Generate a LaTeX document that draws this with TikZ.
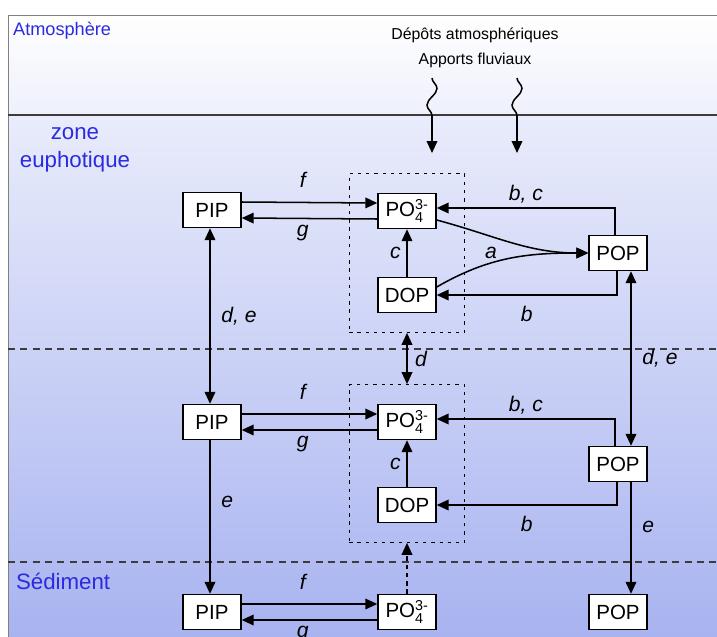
\documentclass[tikz,border=0pt]{standalone}
\usepackage{amsmath}
\usepackage{fontspec}
\setmainfont{Liberation Sans}
\usepackage{xcolor}
\usetikzlibrary{arrows.meta}
\usetikzlibrary{decorations.pathmorphing}
\usetikzlibrary{fit}

\definecolor{bleutexte}{HTML}{2A2AE0}
\definecolor{cielbas}{HTML}{EEF0FC}
\definecolor{eauhaut}{HTML}{E9ECFB}
\definecolor{eaubas}{HTML}{A8B3F0}
\definecolor{trait}{HTML}{3C3C3C}

\tikzset{boite/.style={draw, fill=white, line width=1.2pt,
        minimum width=1.74cm, minimum height=1.05cm, inner sep=0pt,
        font=\fontsize{17.5}{20}\selectfont}}
\tikzset{fleche/.style={line width=1.3pt, -{Triangle[length=0.36cm,width=0.32cm]}}}
\tikzset{flechedouble/.style={line width=1.3pt,
        {Triangle[length=0.36cm,width=0.32cm]}-{Triangle[length=0.36cm,width=0.32cm]}}}
\tikzset{lettre/.style={font=\fontsize{18}{20}\selectfont\itshape}}
\tikzset{milieu/.style={text=bleutexte, font=\fontsize{19}{24}\selectfont}}
\tikzset{groupe/.style={draw, line width=1.1pt, dash pattern=on 2.8pt off 4.2pt,
        inner xsep=0.84cm, inner ysep=0.57cm}}
\tikzset{ondule/.style={decorate, decoration={snake, amplitude=0.15cm,
        segment length=1cm, post length=0.75cm}}}

\begin{document}
\begin{tikzpicture}[x=0.03cm, y=-0.03cm]
    \useasboundingbox (0,0) rectangle (717,637);
    % fond
    \shade[top color=white, bottom color=cielbas] (8,15) rectangle (717,115);
    \shade[top color=eauhaut, bottom color=eaubas] (8,115) rectangle (717,637);
    \draw[gray, line width=0.8pt] (8,637) -- (8,15) -- (717,15);
    \draw[trait, line width=1.6pt] (8,115) -- (717,115);
    \draw[trait, line width=1.2pt, dash pattern=on 6pt off 4.5pt] (8,349) -- (717,349);
    \draw[trait, line width=1.2pt, dash pattern=on 6pt off 4.5pt] (8,562) -- (717,562);

    \node[milieu, anchor=west, font=\fontsize{15.5}{20}\selectfont] (atmo) at (9,31) {Atmosphère};
    \node[milieu, align=center] (eupho) at (75,150) {zone\\euphotique};
    \node[milieu, anchor=west] (sedi) at (12,581) {Sédiment};
    \node[align=center, font=\fontsize{13.5}{21}\selectfont] (apports) at (475,48)
        {Dépôts atmosphériques\\Apports fluviaux};

    \coordinate (depot) at (432,78);
    \coordinate (depotbas) at (432,153);
    \coordinate (fleuve) at (517,78);
    \coordinate (fleuvebas) at (517,153);
    \draw[fleche, ondule] (depot) -- (depotbas);
    \draw[fleche, ondule] (fleuve) -- (fleuvebas);

    % zone euphotique
    \node[boite] (pip1) at (212,210) {PIP};
    \node[boite] (po1) at (407,211) {PO$_{\text{4}}^{\text{3-}}$};
    \node[boite] (dop1) at (407,295) {DOP};
    \node[boite] (pop1) at (618,253) {POP};
    \node[groupe, fit=(po1)(dop1)] (grp1) {};

    \draw[fleche] ([yshift=0.24cm]pip1.east) -- node[lettre, above=0.3cm, xshift=-0.2cm] {f} ([yshift=0.24cm]po1.west);
    \draw[fleche] ([yshift=-0.24cm]po1.west) -- node[lettre, below=0.05cm, xshift=-0.2cm] {g} ([yshift=-0.24cm]pip1.east);
    \draw[fleche] (dop1) -- node[lettre, left=0.05cm] {c} (po1);
    \draw[fleche] ([xshift=-0.09cm]pop1.north) |- node[lettre, pos=0.75, above] {b, c} ([yshift=0.09cm]po1.east);
    \draw[fleche] ([xshift=-0.03cm]pop1.south) |- node[lettre, pos=0.75, below=0.2cm] {b} (dop1.east);
    \draw[fleche] ([yshift=-0.27cm]po1.east) to[out=-15, in=180] (pop1.west);
    \draw[fleche] ([yshift=0.24cm]dop1.east) to[out=30, in=180] node[lettre, pos=0.37, above] {a} (pop1.west);

    % sous la zone euphotique
    \node[boite] (pip2) at (212,422) {PIP};
    \node[boite] (po2) at (407,422) {PO$_{\text{4}}^{\text{3-}}$};
    \node[boite] (dop2) at (407,505) {DOP};
    \node[boite] (pop2) at (618,464) {POP};
    \node[groupe, fit=(po2)(dop2)] (grp2) {};

    \draw[flechedouble] ([xshift=-0.06cm]pip1.south) -- node[lettre, right=0.2cm] {d, e} ([xshift=-0.06cm]pip2.north);
    \draw[flechedouble] ([xshift=0.39cm]pop1.south) -- node[lettre, right=0.2cm] {d, e} ([xshift=0.39cm]pop2.north);
    \draw[flechedouble] (grp1.south) -- node[lettre, right=0.1cm] {d} (grp2.north);

    \draw[fleche] ([yshift=0.24cm]pip2.east) -- node[lettre, above=0.3cm, xshift=-0.2cm] {f} ([yshift=0.24cm]po2.west);
    \draw[fleche] ([yshift=-0.24cm]po2.west) -- node[lettre, below=0.05cm, xshift=-0.2cm] {g} ([yshift=-0.24cm]pip2.east);
    \draw[fleche] (dop2) -- node[lettre, left=0.05cm] {c} (po2);
    \draw[fleche] ([xshift=-0.09cm]pop2.north) |- node[lettre, pos=0.75, above] {b, c} ([yshift=0.09cm]po2.east);
    \draw[fleche] ([xshift=-0.03cm]pop2.south) |- node[lettre, pos=0.75, below=0.2cm] {b} (dop2.east);

    % sediment
    \node[boite] (pip3) at (212,612) {PIP};
    \node[boite] (po3) at (407,612) {PO$_{\text{4}}^{\text{3-}}$};
    \node[boite] (pop3) at (618,612) {POP};

    \draw[fleche] ([xshift=-0.06cm]pip2.south) -- node[lettre, right=0.2cm, pos=0.4] {e} ([xshift=-0.06cm]pip3.north);
    \draw[fleche] ([xshift=0.39cm]pop2.south) -- node[lettre, right=0.2cm, pos=0.4] {e} ([xshift=0.39cm]pop3.north);
    \draw[fleche] ([yshift=0.24cm]pip3.east) -- node[lettre, above=0.3cm, xshift=-0.2cm] {f} ([yshift=0.24cm]po3.west);
    \draw[fleche] ([yshift=-0.24cm]po3.west) -- node[lettre, below=0.05cm, xshift=-0.2cm] {g} ([yshift=-0.24cm]pip3.east);
    \draw[fleche, dash pattern=on 4pt off 3pt] (po3.north) -- (grp2.south);
\end{tikzpicture}
\end{document}
